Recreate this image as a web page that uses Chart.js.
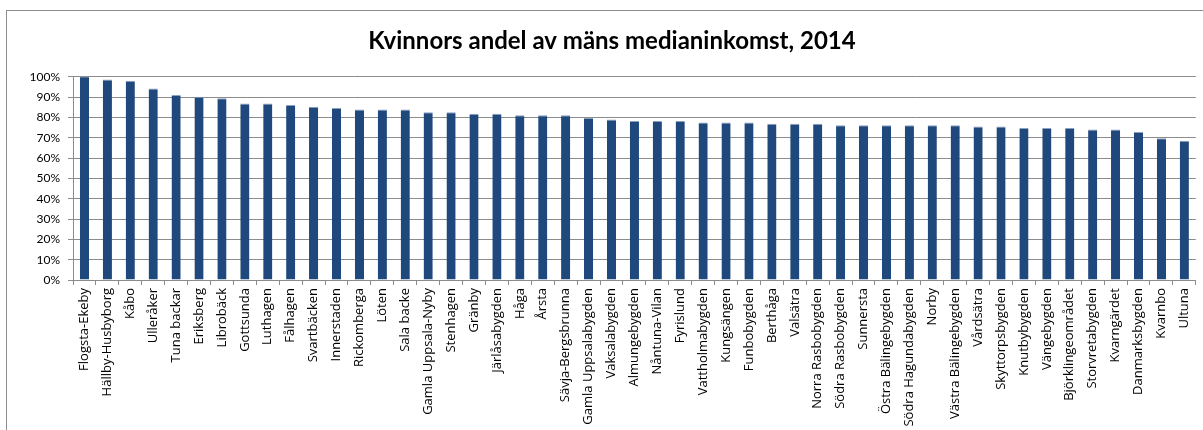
<!DOCTYPE html>
<html>
<head>
<meta charset="utf-8">
<script src="https://cdn.jsdelivr.net/npm/chart.js@4"></script>
<style>
  body { margin: 0; background: #fff; overflow: hidden; }
  #frame { position: absolute; left: 6px; top: 10px; width: 1400px; height: 600px; border: 1px solid #8c8c8c; }
  #wrap { position: absolute; left: 0; top: 0; width: 1203px; height: 430px; }
</style>
</head>
<body>
<div id="frame"></div>
<div id="wrap"><canvas id="myChart" width="1203" height="430"></canvas></div>
<script>
const areas = [
    'Flogsta-Ekeby', 'Hällby-Husbyborg', 'Kåbo', 'Ulleråker', 'Tuna backar', 'Eriksberg', 'Librobäck',
    'Gottsunda', 'Luthagen', 'Fålhagen', 'Svartbäcken', 'Innerstaden', 'Rickomberga', 'Löten',
    'Sala backe', 'Gamla Uppsala-Nyby', 'Stenhagen', 'Gränby', 'Järlåsabygden', 'Håga', 'Årsta',
    'Sävja-Bergsbrunna', 'Gamla Uppsalabygden', 'Vaksalabygden', 'Almungebygden', 'Nåntuna-Vilan',
    'Fyrislund', 'Vattholmabygden', 'Kungsängen', 'Funbobygden', 'Berthåga', 'Valsätra',
    'Norra Rasbobygden', 'Södra Rasbobygden', 'Sunnersta', 'Östra Bälingebygden', 'Södra Hagundabygden',
    'Norby', 'Västra Bälingebygden', 'Vårdsätra', 'Skyttorpsbygden', 'Knutbybygden', 'Vängebygden',
    'Björklingeområdet', 'Storvretabygden', 'Kvarngärdet', 'Danmarksbygden', 'Kvarnbo', 'Ultuna'
]

// kvinnors andel av mäns medianinkomst (andel, 1 = 100%)
const shares = [
    1.003, 0.987, 0.980, 0.943, 0.910, 0.902, 0.895,
    0.869, 0.869, 0.861, 0.852, 0.846, 0.839, 0.839,
    0.839, 0.825, 0.825, 0.818, 0.818, 0.811, 0.811,
    0.811, 0.797, 0.790, 0.782, 0.782, 0.782, 0.775,
    0.775, 0.775, 0.769, 0.769, 0.769, 0.762, 0.762,
    0.762, 0.762, 0.762, 0.762, 0.756, 0.756, 0.748,
    0.748, 0.748, 0.741, 0.741, 0.728, 0.698, 0.685
]

const yTicks = [0, 0.1, 0.2, 0.3, 0.4, 0.5, 0.6, 0.7, 0.8, 0.9, 1.0]

const gridColor = '#8c8c8c'
const barColor = '#1F497D'

const data = {
    labels: areas,
    datasets: [{
        label: 'Andel',
        data: shares,
        backgroundColor: barColor,
        borderColor: '#8aa0bf',
        borderWidth: { top: 1, left: 0, right: 0, bottom: 0 },
        borderSkipped: false,
        categoryPercentage: 1,
        barPercentage: 0.4
    }]
};

const config = {
    type: 'bar',
    data: data,
    options: {
        responsive: false,
        animation: false,
        layout: { padding: { left: 27, right: 6, top: 0, bottom: 0 } },
        plugins: {
            legend: { display: false },
            tooltip: { enabled: false },
            title: {
                display: true,
                text: 'Kvinnors andel av mäns medianinkomst, 2014',
                color: '#000',
                font: { family: 'Lato', size: 24, weight: 'bold', lineHeight: 1.2 },
                padding: { top: 27, bottom: 21 }
            }
        },
        scales: {
            x: {
                offset: true,
                afterFit: function (scale) { scale.height = 150 },
                grid: {
                    offset: true,
                    drawOnChartArea: false,
                    drawTicks: true,
                    tickLength: 5,
                    color: gridColor
                },
                border: { color: gridColor, width: 1 },
                ticks: {
                    autoSkip: false,
                    maxRotation: 90,
                    minRotation: 90,
                    padding: 3,
                    color: '#000',
                    font: { family: 'Open Sans', size: 13 }
                }
            },
            y: {
                min: 0,
                max: 1,
                afterFit: function (scale) { scale.width = 46 },
                afterBuildTicks: function (scale) {
                    scale.ticks = yTicks.map(function (v) { return { value: v } })
                },
                grid: {
                    color: gridColor,
                    tickLength: 5
                },
                border: { color: gridColor, width: 1 },
                ticks: {
                    padding: 8,
                    color: '#000',
                    font: { family: 'Lato', size: 12 },
                    callback: function (v) { return Math.round(v * 100) + '%' }
                }
            }
        }
    }
};

const myChart = new Chart(
    document.getElementById('myChart'),
    config
);
</script>
</body>
</html>
